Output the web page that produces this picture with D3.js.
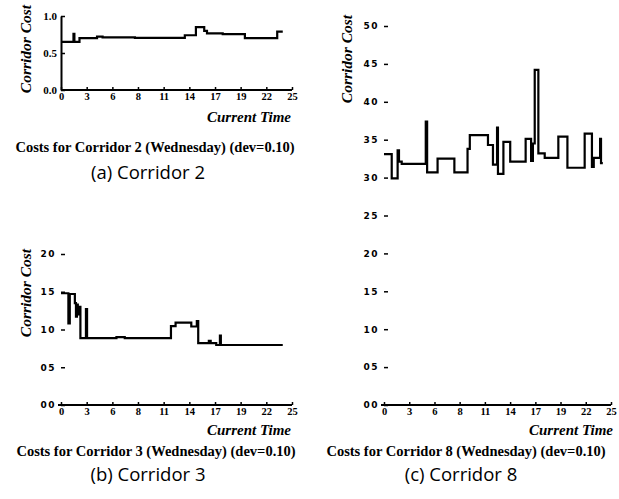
<!DOCTYPE html>
<html>
<head>
<meta charset="utf-8">
<script src="https://cdn.jsdelivr.net/npm/d3@7/dist/d3.min.js"></script>
<style>
  body { margin: 0; background: #fff; }
  svg { display: block; }
</style>
</head>
<body>
<svg id="chart" width="619" height="499"></svg>
<script>
// x ticks: 9 even steps over 0..25, labels as printed
var timeTicks = [0, 2.78, 5.56, 8.33, 11.11, 13.89, 16.67, 19.44, 22.22, 25];
var timeLabels = ["0", "3", "6", "8", "11", "14", "17", "19", "22", "25"];

// Corridor 2: [hour, cost]
var corridor2 = [
  [0, 0.65], [1.35, 0.76], [1.45, 0.65], [2.0, 0.70], [3.9, 0.72], [4.5, 0.71],
  [8.0, 0.705], [13.4, 0.74], [14.6, 0.85], [15.5, 0.80], [15.8, 0.765],
  [17.5, 0.755], [19.9, 0.70], [23.4, 0.79], [24.0, 0.79]
];

// Corridor 3
var corridor3 = [
  [0, 1.48], [0.8, 1.08], [0.95, 1.47], [1.5, 1.35], [1.62, 1.17], [1.72, 1.33],
  [1.82, 1.2], [1.95, 1.3], [2.1, 0.885], [2.7, 1.27], [2.82, 0.885],
  [6.0, 0.90], [6.9, 0.885], [11.9, 1.045], [12.4, 1.09], [14.1, 1.04],
  [14.7, 1.11], [14.85, 0.82], [16.0, 0.85], [16.2, 0.82], [16.8, 0.795],
  [17.2, 0.92], [17.3, 0.795], [24.0, 0.795]
];

// Corridor 8
var corridor8 = [
  [0, 3.31], [0.85, 2.99], [1.5, 3.36], [1.65, 3.21], [1.95, 3.18], [4.6, 3.74],
  [4.75, 3.07], [5.9, 3.25], [7.75, 3.07], [9.2, 3.38], [9.45, 3.56],
  [11.45, 3.43], [12.0, 3.17], [12.45, 3.66], [12.55, 3.05], [13.15, 3.47],
  [13.9, 3.21], [15.6, 3.51], [16.2, 3.22], [16.4, 3.45], [16.6, 4.42],
  [17.0, 3.32], [17.7, 3.26], [19.2, 3.54], [20.2, 3.13], [22.1, 3.58],
  [22.9, 3.14], [23.1, 3.26], [23.8, 3.51], [23.9, 3.19], [24.1, 3.19]
];

var ticksA = [0, 0.5, 1.0];
var ticksB = [0, 0.5, 1.0, 1.5, 2.0];
var ticksC = [0, 0.5, 1.0, 1.5, 2.0, 2.5, 3.0, 3.5, 4.0, 4.5, 5.0];

var titles = [
  "Costs for Corridor 2 (Wednesday) (dev=0.10)",
  "Costs for Corridor 3 (Wednesday) (dev=0.10)",
  "Costs for Corridor 8 (Wednesday) (dev=0.10)"
];
var captions = ["(a) Corridor 2", "(b) Corridor 3", "(c) Corridor 8"];

var svg = d3.select("#chart");

var panels = [
  { data: corridor2, yTicks: ticksA, ymax: 1.0, x0: 61, x1: 292, y0: 90, y1: 16,
    style: "a", ylab: [26, 49], xlab: [291, 117], title: [155, 152], cap: [148, 179] },
  { data: corridor3, yTicks: ticksB, ymax: 2.0, x0: 61, x1: 292, y0: 405, y1: 254,
    style: "b", ylab: [26, 293], xlab: [291, 430], title: [156, 456], cap: [148, 481] },
  { data: corridor8, yTicks: ticksC, ymax: 5.0, x0: 384, x1: 611, y0: 405, y1: 26,
    style: "b", ylab: [347, 59], xlab: [613, 430], title: [466, 456], cap: [461, 481] }
];

panels.forEach(function(p, i) {
  var x = d3.scaleLinear().domain([0, 25]).range([p.x0, p.x1]);
  var y = d3.scaleLinear().domain([0, p.ymax]).range([p.y0, p.y1]);
  var g = svg.append("g");

  // x axis
  var xAxis = g.append("g")
    .attr("transform", "translate(0," + p.y0 + ")")
    .call(d3.axisBottom(x)
      .tickValues(timeTicks)
      .tickFormat(function(d, j) { return timeLabels[j]; })
      .tickSizeInner(-3)
      .tickSizeOuter(0)
      .tickPadding(3));
  xAxis.select(".domain")
    .attr("d", "M" + (p.style == "a" ? p.x0 : p.x0 - 3) + ",0H" + p.x1)
    .style("stroke-width", 2);
  xAxis.selectAll(".tick line").style("stroke-width", 1.5);
  xAxis.selectAll("text")
    .style("font-family", "'Liberation Serif', serif")
    .style("font-weight", "bold")
    .style("font-size", "10.5px");

  // y axis
  var yAxis = g.append("g")
    .attr("transform", "translate(" + p.x0 + ",0)")
    .call(d3.axisLeft(y)
      .tickValues(p.yTicks)
      .tickFormat(function(d) {
        var s = d3.format(".1f")(d);
        return p.style == "a" ? s : s.replace(".", "");
      })
      .tickSizeInner(-4)
      .tickSizeOuter(0)
      .tickPadding(p.style == "a" ? 4 : 5));
  yAxis.selectAll(".tick line").style("stroke-width", 1.5);
  if (p.style == "a") {
    yAxis.select(".domain").style("stroke-width", 2);
    yAxis.selectAll("text")
      .style("font-family", "'Liberation Serif', serif")
      .style("font-weight", "bold")
      .style("font-size", "11px");
  } else {
    yAxis.select(".domain").remove();
    yAxis.selectAll("text")
      .style("font-family", "'DejaVu Sans', sans-serif")
      .style("font-weight", "bold")
      .style("font-size", "9px")
      .style("letter-spacing", "1.5px");
  }

  // step line
  var line = d3.line()
    .x(function(d) { return x(d[0]); })
    .y(function(d) { return y(d[1]); })
    .curve(d3.curveStepAfter);
  g.append("path")
    .datum(p.data)
    .attr("d", line)
    .style("fill", "none")
    .style("stroke", "#000")
    .style("stroke-width", 2.2);

  // axis titles
  g.append("text")
    .attr("transform", "translate(" + p.ylab[0] + "," + p.ylab[1] + ") rotate(-90)")
    .attr("text-anchor", "middle")
    .attr("dy", "0.35em")
    .style("font-family", "'Liberation Serif', serif")
    .style("font-weight", "bold")
    .style("font-style", "italic")
    .style("font-size", "15.5px")
    .text("Corridor Cost");

  g.append("text")
    .attr("x", p.xlab[0])
    .attr("y", p.xlab[1])
    .attr("text-anchor", "end")
    .attr("dy", "0.35em")
    .style("font-family", "'Liberation Serif', serif")
    .style("font-weight", "bold")
    .style("font-style", "italic")
    .style("font-size", "15px")
    .text("Current Time");

  g.append("text")
    .attr("x", p.title[0])
    .attr("y", p.title[1])
    .attr("text-anchor", "middle")
    .style("font-family", "'Liberation Serif', serif")
    .style("font-weight", "bold")
    .style("font-size", "14.5px")
    .text(titles[i]);

  g.append("text")
    .attr("x", p.cap[0])
    .attr("y", p.cap[1])
    .attr("text-anchor", "middle")
    .style("font-family", "'Open Sans', sans-serif")
    .style("font-size", "18.5px")
    .text(captions[i]);
});
</script>
</body>
</html>
